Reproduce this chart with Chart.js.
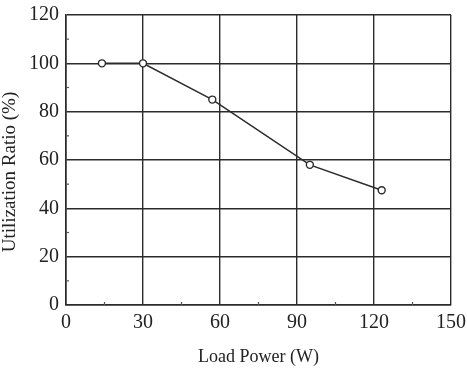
<!DOCTYPE html>
<html>
<head>
<meta charset="utf-8">
<script src="https://cdn.jsdelivr.net/npm/chart.js@4"></script>
<style>
  html, body { margin: 0; padding: 0; background: #fff; }
  #wrap { width: 467px; height: 375px; }
</style>
</head>
<body>
<div id="wrap"><canvas id="chart" width="467" height="375"></canvas></div>
<script>
// load power (W) vs utilization ratio (%)
const loadPower = [14, 30, 57, 95, 123];
const utilization = [100, 100, 85, 58, 47.5];
const xTicks = [0, 30, 60, 90, 120, 150];
const yTicks = [0, 20, 40, 60, 80, 100, 120];
const xMinor = [15, 45, 75, 105, 135];
const yMinor = [10, 30, 50, 70, 90, 110];
const yTitle = "Utilization Ratio (%)";

const ink = "#2b2b2b";
const serif = "'Liberation Serif', 'Times New Roman', serif";

// small inward ticks between the major grid lines
const minorTicks = {
  id: "minorTicks",
  afterDraw(chart) {
    const { ctx, scales, chartArea } = chart;
    ctx.save();
    ctx.strokeStyle = "#555";
    ctx.lineWidth = 1.2;
    xMinor.forEach((v) => {
      const px = scales.x.getPixelForValue(v);
      ctx.beginPath();
      ctx.moveTo(px, chartArea.bottom);
      ctx.lineTo(px, chartArea.bottom - 3);
      ctx.stroke();
    });
    yMinor.forEach((v) => {
      const py = scales.y.getPixelForValue(v);
      ctx.beginPath();
      ctx.moveTo(chartArea.left, py);
      ctx.lineTo(chartArea.left + 3, py);
      ctx.stroke();
    });
    ctx.restore();
  },
};

// y title sits a bit below the middle of the axis in the original
const sideTitle = {
  id: "sideTitle",
  afterDraw(chart) {
    const { ctx, chartArea } = chart;
    ctx.save();
    ctx.translate(10, (chartArea.top + chartArea.bottom) / 2 + 12);
    ctx.rotate(-Math.PI / 2);
    ctx.font = "19px " + serif;
    ctx.fillStyle = "#222";
    ctx.textAlign = "center";
    ctx.textBaseline = "middle";
    ctx.fillText(yTitle, 0, 0);
    ctx.restore();
  },
};

const context = document.getElementById("chart").getContext("2d");

new Chart(context, {
  type: "line",
  data: {
    datasets: [
      {
        data: loadPower.map((x, i) => ({ x: x, y: utilization[i] })),
        borderColor: ink,
        borderWidth: 1.5,
        pointRadius: 3.5,
        pointBorderWidth: 1.4,
        pointBackgroundColor: "#fff",
        pointBorderColor: ink,
        tension: 0,
      },
    ],
  },
  options: {
    responsive: false,
    animation: false,
    layout: { padding: { top: 15, right: 16, left: 0, bottom: 0 } },
    plugins: { legend: { display: false }, tooltip: { enabled: false } },
    scales: {
      x: {
        type: "linear",
        min: 0,
        max: 150,
        afterBuildTicks: (axis) => {
          axis.ticks = xTicks.map((v) => ({ value: v }));
        },
        afterFit: (axis) => {
          axis.height = 70;
          axis.paddingLeft = 0;
          axis.paddingRight = 0;
        },
        grid: { color: ink, lineWidth: 1.4, drawTicks: false },
        border: { color: ink, width: 1.6 },
        ticks: {
          color: "#222",
          padding: 6,
          maxRotation: 0,
          font: { family: serif, size: 20 },
        },
        title: {
          display: true,
          text: "Load Power (W)",
          color: "#222",
          font: { family: serif, size: 18 },
          padding: { top: 0, bottom: 7 },
        },
      },
      y: {
        type: "linear",
        min: 0,
        max: 120,
        afterBuildTicks: (axis) => {
          axis.ticks = yTicks.map((v) => ({ value: v }));
        },
        afterFit: (axis) => {
          axis.width = 66;
          axis.paddingTop = 0;
          axis.paddingBottom = 0;
        },
        grid: { color: ink, lineWidth: 1.4, drawTicks: false },
        border: { color: ink, width: 1.6 },
        ticks: {
          color: "#222",
          padding: 7,
          font: { family: serif, size: 20 },
        },
        title: { display: false },
      },
    },
  },
  plugins: [minorTicks, sideTitle],
});
</script>
</body>
</html>
